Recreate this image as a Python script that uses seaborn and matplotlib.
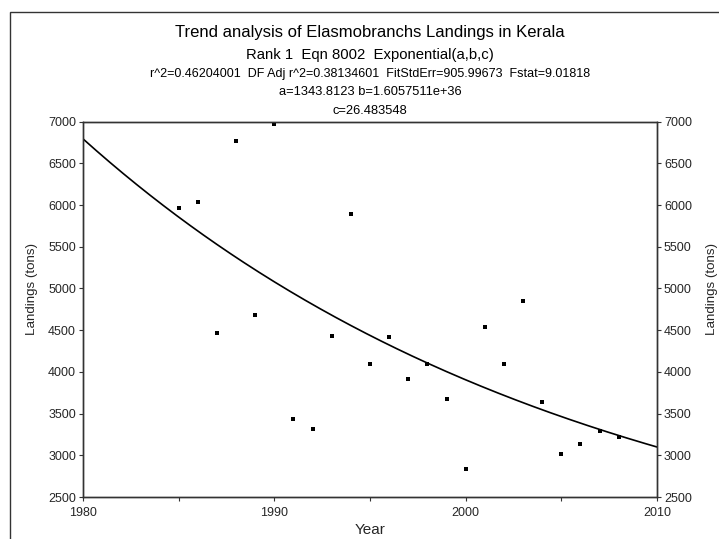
import numpy as np
import pandas as pd
import matplotlib
matplotlib.use("Agg")
import matplotlib.pyplot as plt
import seaborn as sns
from matplotlib.patches import Rectangle

# ---- data ----
years = [1985, 1986, 1987, 1988, 1989, 1990, 1991, 1992, 1993, 1994, 1995, 1996,
         1997, 1998, 1999, 2000, 2001, 2002, 2003, 2004, 2005, 2006, 2007, 2008]
landings = [5970, 6040, 4470, 6765, 4680, 6970, 3440, 3315, 4425, 5890, 4100, 4415,
            3910, 4100, 3675, 2830, 4540, 4100, 4855, 3640, 3020, 3140, 3290, 3215]

# fitted exponential y = a + b*exp(-x/c), parameters as printed in the title
fit_a = 1343.8123
fit_b = 1.6057511e+36
fit_c = 26.483548

x_ticks = [1980, 1990, 2000, 2010]
y_ticks = [2500, 3000, 3500, 4000, 4500, 5000, 5500, 6000, 6500, 7000]

title_lines = [
    "Trend analysis of Elasmobranchs Landings in Kerala",
    "Rank 1  Eqn 8002  Exponential(a,b,c)",
    "r^2=0.46204001  DF Adj r^2=0.38134601  FitStdErr=905.99673  Fstat=9.01818",
    "a=1343.8123 b=1.6057511e+36",
    "c=26.483548",
]

df = pd.DataFrame({"Year": years, "Landings": landings})
fit_x = np.linspace(1980, 2010, 301)
fit_df = pd.DataFrame({"Year": fit_x, "Landings": fit_a + fit_b * np.exp(-fit_x / fit_c)})

sns.set_style("ticks")
plt.rcParams['font.family'] = ['Liberation Sans', 'DejaVu Sans']

W, H = 719, 539
fig = plt.figure(figsize=(W / 100, H / 100), dpi=100)
ax = fig.add_axes([83 / W, 1 - 497 / H, (657 - 83) / W, (497 - 121.6) / H])

# outer frame (top and left edges visible, rest falls off the image)
fig.patches.append(Rectangle((9.5 / W, -0.1), 1.2, (H - 12.5) / H + 0.1,
                             transform=fig.transFigure, fill=False,
                             edgecolor="#333333", linewidth=1.0))

sns.lineplot(data=fit_df, x="Year", y="Landings", ax=ax, color="black",
             linewidth=1.2, legend=False)
sns.scatterplot(data=df, x="Year", y="Landings", ax=ax, color="black",
                marker="s", s=5, linewidth=0, legend=False, zorder=3)

ax.set_xlim(1980, 2010)
ax.set_ylim(2500, 7000)
ax.set_xticks(x_ticks)
ax.set_xticks([1985, 1995, 2005], minor=True)
ax.set_yticks(y_ticks)
for sp in ax.spines.values():
    sp.set_color("#333333")
    sp.set_linewidth(1.0)
ax.tick_params(axis="both", which="both", direction="out", length=3, width=0.8,
               color="#333333", labelsize=9, pad=2)
ax.tick_params(axis="x", pad=4)
ax.set_xlabel("Year", fontsize=11, labelpad=3)
ax.set_ylabel("")

ax2 = ax.twinx()
ax2.set_ylim(2500, 7000)
ax2.set_yticks(y_ticks)
ax2.tick_params(axis="y", direction="out", length=3, width=0.8, color="#333333",
                labelsize=9, pad=2)
for sp in ax2.spines.values():
    sp.set_color("#333333")
    sp.set_linewidth(1.0)

# y labels on both sides, placed where the reference has them
ylab = "Landings (tons)"
fig.text(31.7 / W, 1 - 288.5 / H, ylab, rotation=90, ha="center", va="center",
         fontsize=9.6)
fig.text(712 / W, 1 - 288.5 / H, ylab, rotation=90, ha="center", va="center",
         fontsize=9.6)

cx = 370 / W
sizes = [12, 10.7, 9.0, 9.3, 9.3]
ys = [33, 55, 74, 92.5, 111.5]
for txt, fs, yy in zip(title_lines, sizes, ys):
    fig.text(cx, 1 - yy / H, txt, ha="center", va="center", fontsize=fs, color="black")

fig.savefig("out.png", dpi=100)
